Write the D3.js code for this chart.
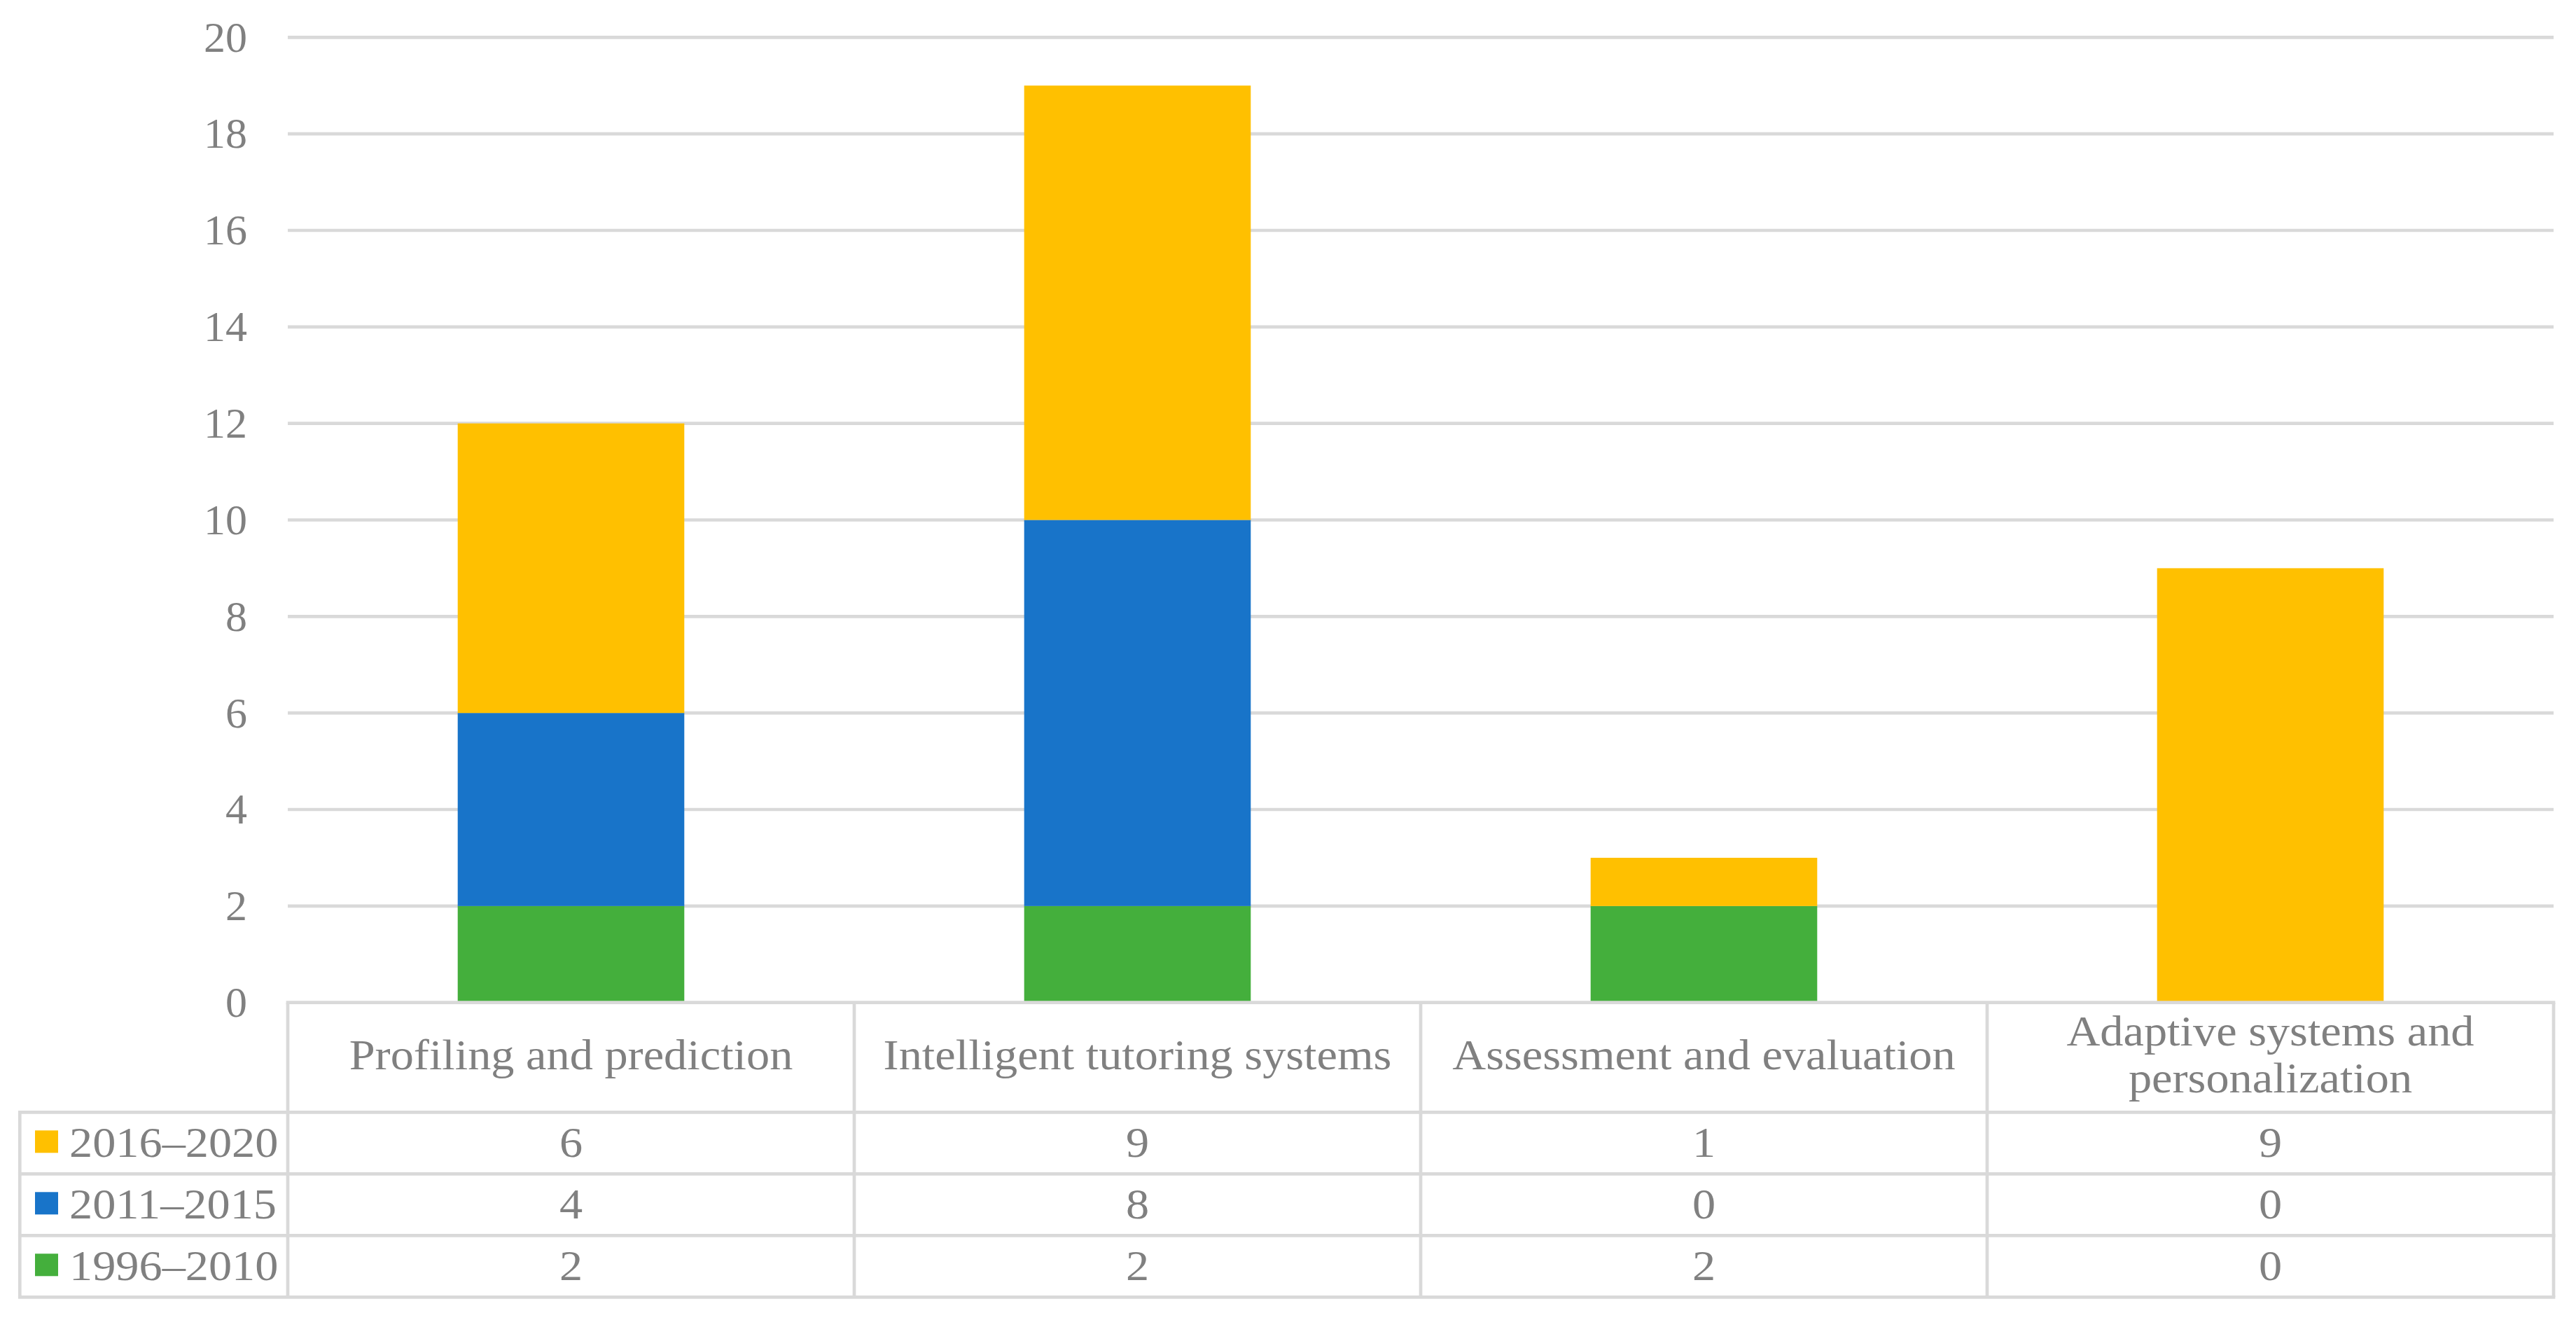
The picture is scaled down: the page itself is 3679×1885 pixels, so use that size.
<!DOCTYPE html>
<html>
<head>
<meta charset="utf-8">
<script src="https://cdn.jsdelivr.net/npm/d3@7/dist/d3.min.js"></script>
<style>
  html, body { margin: 0; padding: 0; background: #fff; }
  svg { display: block; }
  text { font-family: "Liberation Serif", "Times New Roman", serif; fill: #808080; }
</style>
</head>
<body>
<script>
// ---- data ----
const categories = ["Profiling and prediction", "Intelligent tutoring systems", "Assessment and evaluation", "Adaptive systems and personalization"];
const seriesNames = ["2016–2020", "2011–2015", "1996–2010"];
const values2016_2020 = [6, 9, 1, 9];
const values2011_2015 = [4, 8, 0, 0];
const values1996_2010 = [2, 2, 2, 0];
const seriesColors = ["#FFC000", "#1874C9", "#44AF3C"];
const yTicks = [0, 2, 4, 6, 8, 10, 12, 14, 16, 18, 20];

// ---- layout ----
const W = 3679, H = 1885;
const plotLeft = 411, plotRight = 3647;
const yTop = 53.3, yZero = 1431.7;
const headerBottom = 1588.3, rowH = 88;
const legendLeft = 28.3;
const gridColor = "#D9D9D9", lineW = 4.7;
const fontSize = 62, sx = 1.07;

const svg = d3.select("body").append("svg").attr("width", W).attr("height", H);
svg.append("rect").attr("width", W).attr("height", H).attr("fill", "#fff");

const cell = d3.scaleBand().domain(categories).range([plotLeft, plotRight]).padding(0);
const xBar = d3.scaleBand().domain(categories).range([plotLeft, plotRight]).paddingInner(0.6).paddingOuter(0.3);
const y = d3.scaleLinear().domain([0, 20]).range([yZero, yTop]);

// gridlines
svg.append("g").selectAll("line").data(yTicks.filter(d => d > 0)).join("line")
  .attr("x1", plotLeft).attr("x2", plotRight)
  .attr("y1", d => y(d)).attr("y2", d => y(d))
  .attr("stroke", gridColor).attr("stroke-width", lineW);

// stacked bars
const table = categories.map((c, i) => ({
  cat: c,
  "1996–2010": values1996_2010[i],
  "2011–2015": values2011_2015[i],
  "2016–2020": values2016_2020[i]
}));
const stackKeys = ["1996–2010", "2011–2015", "2016–2020"];
const colorOf = d3.scaleOrdinal().domain(seriesNames).range(seriesColors);
const stacked = d3.stack().keys(stackKeys)(table);
svg.append("g").selectAll("g").data(stacked).join("g")
  .attr("fill", s => colorOf(s.key))
  .selectAll("rect").data(s => s).join("rect")
  .attr("x", d => xBar(d.data.cat))
  .attr("width", xBar.bandwidth())
  .attr("y", d => y(d[1]))
  .attr("height", d => y(d[0]) - y(d[1]));

// y axis labels
const yAxis = d3.axisLeft(y).tickValues(yTicks).tickSize(0).tickPadding(plotLeft - 353);
const ag = svg.append("g").attr("transform", `translate(${plotLeft},0)`).call(yAxis);
ag.select(".domain").remove();
ag.selectAll("text").style("font-size", fontSize + "px")
  .style("font-family", '"Liberation Serif", "Times New Roman", serif').attr("fill", "#808080");

// ---- data table ----
const tg = svg.append("g");
const tableBottom = headerBottom + rowH * 3;
const hline = (x1, x2, yy) => tg.append("line").attr("x1", x1).attr("x2", x2).attr("y1", yy).attr("y2", yy)
  .attr("stroke", gridColor).attr("stroke-width", lineW);
const vline = (xx, y1, y2) => tg.append("line").attr("x1", xx).attr("x2", xx).attr("y1", y1).attr("y2", y2)
  .attr("stroke", gridColor).attr("stroke-width", lineW);

hline(plotLeft - lineW / 2, plotRight + lineW / 2, yZero);
for (let r = 0; r <= 3; r++) hline(legendLeft - lineW / 2, plotRight + lineW / 2, headerBottom + r * rowH);
vline(legendLeft, headerBottom, tableBottom);
categories.forEach(c => vline(cell(c), yZero, tableBottom));
vline(plotRight, yZero, tableBottom);

function addText(g, str, x, yy, anchor) {
  return g.append("text").attr("transform", `translate(${x},${yy}) scale(${sx},1)`)
    .attr("text-anchor", anchor).attr("dominant-baseline", "central")
    .style("font-size", fontSize + "px").text(str);
}

// header labels with wrapping
const maxW = cell.bandwidth() - 50;
const headerMid = (yZero + headerBottom) / 2;
categories.forEach(c => {
  const cx = cell(c) + cell.bandwidth() / 2;
  const words = c.split(" ");
  const lines = [];
  let cur = [];
  const probe = addText(tg, "", 0, -1000, "middle");
  words.forEach(w => {
    const test = cur.concat([w]).join(" ");
    probe.text(test);
    if (probe.node().getComputedTextLength() * sx > maxW && cur.length) {
      lines.push(cur.join(" "));
      cur = [w];
    } else cur.push(w);
  });
  lines.push(cur.join(" "));
  probe.remove();
  const lh = 67;
  lines.forEach((ln, i) => {
    addText(tg, ln, cx, headerMid - 4 + (i - (lines.length - 1) / 2) * lh, "middle");
  });
});

// data rows
const rowSeries = [values2016_2020, values2011_2015, values1996_2010];
seriesNames.forEach((name, r) => {
  const cy = headerBottom + r * rowH + rowH / 2;
  tg.append("rect").attr("x", 50).attr("y", cy - 16 - 2).attr("width", 33).attr("height", 32)
    .attr("fill", colorOf(name));
  addText(tg, name, 99, cy - 1, "start");
  categories.forEach((c, i) => {
    addText(tg, String(rowSeries[r][i]), cell(c) + cell.bandwidth() / 2, cy - 1, "middle");
  });
});
</script>
</body>
</html>
